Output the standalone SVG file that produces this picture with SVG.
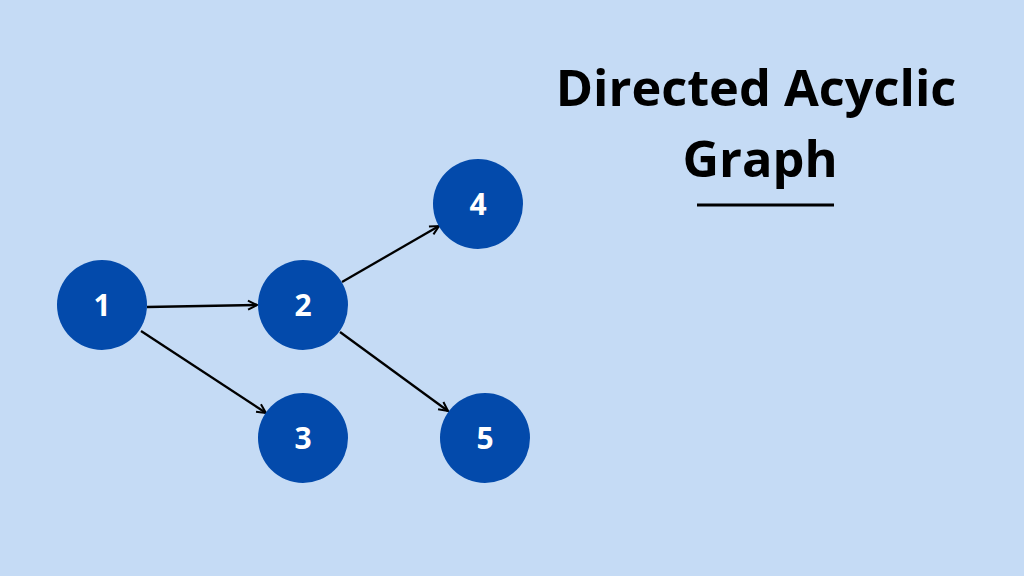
<svg xmlns="http://www.w3.org/2000/svg" width="1024" height="576" viewBox="0 0 1024 576">
<defs>
<marker id="arr" viewBox="0 0 12 12" refX="10.5" refY="6" markerWidth="12" markerHeight="12" markerUnits="userSpaceOnUse" orient="auto">
<path d="M1.5,1.5 L10.5,6 L1.5,10.5" fill="none" stroke="#000" stroke-width="2"/>
</marker>
<style>
.node circle{fill:#034AAB}
.node text{fill:#fff;font-family:"Open Sans","Liberation Sans",sans-serif;font-weight:bold;font-size:30px;text-anchor:middle}
.edge{stroke:#000;stroke-width:2.3;fill:none;marker-end:url(#arr)}
.title{fill:#000;font-family:"Open Sans","Liberation Sans",sans-serif;font-weight:bold;font-size:50.5px;text-anchor:middle}
</style>
</defs>
<rect width="1024" height="576" fill="#C5DBF5"/>
<g id="connectors">
<line class="edge" x1="147" y1="307" x2="257" y2="305"/>
<line class="edge" x1="141" y1="331" x2="266" y2="413"/>
<line class="edge" x1="342" y1="282" x2="439" y2="226"/>
<line class="edge" x1="340" y1="332" x2="448" y2="411"/>
</g>
<g id="node1" class="node"><circle cx="102" cy="305" r="45"/><text x="102" y="316">1</text></g>
<g id="node2" class="node"><circle cx="303" cy="305" r="45"/><text x="303" y="316">2</text></g>
<g id="node3" class="node"><circle cx="303" cy="438" r="45"/><text x="303" y="449">3</text></g>
<g id="node4" class="node"><circle cx="478" cy="204" r="45"/><text x="478" y="215">4</text></g>
<g id="node5" class="node"><circle cx="485" cy="438" r="45"/><text x="485" y="449">5</text></g>
<g id="title">
<text class="title" x="756" y="106">Directed Acyclic</text>
<text class="title" x="760" y="177">Graph</text>
<line x1="697" y1="205" x2="834" y2="205" stroke="#000" stroke-width="3"/>
</g>
</svg>
